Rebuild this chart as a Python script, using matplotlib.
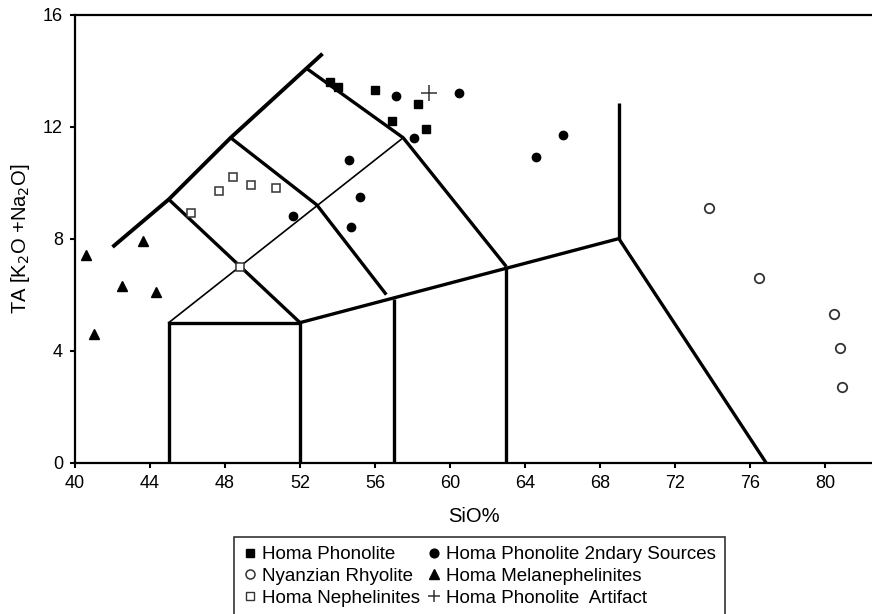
import matplotlib
matplotlib.use("Agg")
import matplotlib.pyplot as plt
from matplotlib.lines import Line2D

plt.rcParams['font.family'] = ['Liberation Sans', 'DejaVu Sans']

# ---- data ----
phon_x = [53.6, 54.0, 56.0, 58.3, 56.9, 58.7]
phon_y = [13.6, 13.4, 13.3, 12.8, 12.2, 11.9]

sec_x = [57.1, 60.5, 58.1, 66.0, 64.6, 54.6, 55.2, 51.6, 54.7]
sec_y = [13.1, 13.2, 11.6, 11.7, 10.9, 10.8, 9.5, 8.8, 8.4]

rhy_x = [73.8, 76.5, 80.5, 80.8, 80.9]
rhy_y = [9.1, 6.6, 5.3, 4.1, 2.7]

mel_x = [43.6, 40.6, 42.5, 44.3, 41.0]
mel_y = [7.9, 7.4, 6.3, 6.1, 4.6]

neph_x = [48.4, 47.7, 49.4, 50.7, 46.2, 48.8]
neph_y = [10.2, 9.7, 9.9, 9.8, 8.9, 7.0]

art_x = [58.9]
art_y = [13.2]

# TAS field boundaries (x list, y list)
thick_outer = ([42.0, 45.0, 48.3, 53.2], [7.7, 9.4, 11.6, 14.6])
thick_lines = [
    ([45.0, 45.0, 52.0, 52.0], [0.0, 5.0, 5.0, 0.0]),
    ([52.0, 69.0, 76.85], [5.0, 8.0, 0.0]),
    ([69.0, 69.0], [8.0, 12.85]),
    ([57.0, 57.0], [0.0, 5.85]),
    ([63.0, 63.0], [0.0, 7.0]),
    ([45.0, 52.0], [9.4, 5.0]),
    ([48.3, 52.9, 56.6], [11.6, 9.2, 6.0]),
    ([52.4, 57.5, 63.0], [14.05, 11.6, 7.0]),
]
thin_lines = [
    ([45.0, 57.5], [5.0, 11.6]),
]

x_ticks = [40, 44, 48, 52, 56, 60, 64, 68, 72, 76, 80]
y_ticks = [0, 4, 8, 12, 16]

# ---- figure ----
W, H = 872, 614
fig = plt.figure(figsize=(W / 100, H / 100), dpi=100)
ax = fig.add_axes([75 / W, 1 - 462.7 / H, (W - 75) / W, (462.7 - 14.5) / H])

ax.plot(*thick_outer, color='black', lw=2.8, solid_capstyle='butt', zorder=2)
for xs, ys in thick_lines:
    ax.plot(xs, ys, color='black', lw=2.4, solid_capstyle='butt', solid_joinstyle='miter', zorder=2)
for xs, ys in thin_lines:
    ax.plot(xs, ys, color='black', lw=1.2, zorder=2)

ax.plot(phon_x, phon_y, 's', color='black', ms=5.8, ls='none', zorder=3)
ax.plot(sec_x, sec_y, 'o', color='black', ms=6, ls='none', zorder=3)
ax.plot(rhy_x, rhy_y, 'o', mfc='white', mec='#333333', mew=1.3, ms=6.8, ls='none', zorder=3)
ax.plot(mel_x, mel_y, '^', color='black', ms=6.5, ls='none', zorder=3)
ax.plot(neph_x, neph_y, 's', mfc='white', mec='#333333', mew=1.1, ms=6.3, ls='none', zorder=3)
ax.plot(art_x, art_y, '+', color='#333333', ms=11.5, mew=1.1, ls='none', zorder=3)

ax.set_xlim(40, 82.5)
ax.set_ylim(0, 16)
ax.set_xticks(x_ticks)
ax.set_yticks(y_ticks)
ax.tick_params(direction='out', length=3.6, width=1.5, labelsize=13, pad=5)
for s in ['left', 'bottom', 'top']:
    ax.spines[s].set_linewidth(1.6)
ax.spines['right'].set_visible(False)

ax.set_xlabel('SiO%', fontsize=14.5)
ax.xaxis.set_label_coords(0.5, (462.7 - 516.7) / 448.2)
ax.xaxis.label.set_va('center')
ax.set_ylabel('TA [K$_2$O +Na$_2$O]', fontsize=14.5)
ax.yaxis.set_label_coords((20 - 75) / 797, 0.5)
ax.yaxis.label.set_va('center')

handles = [
    Line2D([], [], marker='s', color='black', ls='none', ms=6),
    Line2D([], [], marker='o', mfc='white', mec='#333333', mew=1.1, ls='none', ms=6.5),
    Line2D([], [], marker='s', mfc='white', mec='#333333', mew=1.0, ls='none', ms=6),
    Line2D([], [], marker='o', color='black', ls='none', ms=6.3),
    Line2D([], [], marker='^', color='black', ls='none', ms=6.8),
    Line2D([], [], marker='+', color='#333333', mew=1.1, ls='none', ms=9),
]
labels = ['Homa Phonolite', 'Nyanzian Rhyolite', 'Homa Nephelinites',
          'Homa Phonolite 2ndary Sources', 'Homa Melanephelinites', 'Homa Phonolite  Artifact']
leg = fig.legend(handles, labels, ncol=2, loc='upper left',
                 bbox_to_anchor=(234 / W, 1 - 536.7 / H),
                 fontsize=13.5, frameon=True, fancybox=False, edgecolor='black',
                 handlelength=0.75, handletextpad=0.25, columnspacing=0.39,
                 labelspacing=0.25, borderpad=0.5, borderaxespad=0)
leg.get_frame().set_linewidth(1.2)

fig.savefig('out.png', dpi=100)
